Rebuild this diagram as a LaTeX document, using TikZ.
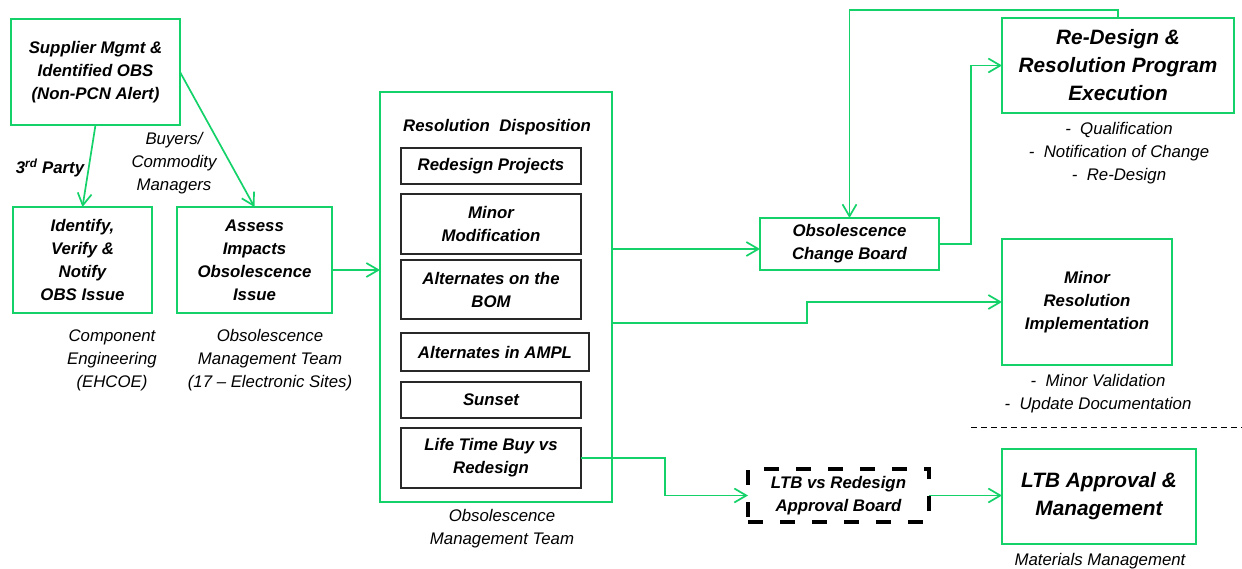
\documentclass[tikz,border=0pt]{standalone}
\usepackage{fontspec}
\setmainfont{Liberation Sans}
\usetikzlibrary{arrows.meta,calc}
\definecolor{ogreen}{RGB}{20,210,105}
\definecolor{ogrey}{RGB}{40,40,40}
\tikzset{
  gbox/.style={draw=ogreen, line width=2pt, align=center, inner sep=0pt, outer sep=0pt,
    font=\bfseries\itshape\fontsize{16.8}{23}\selectfont},
  bigtxt/.style={font=\bfseries\itshape\fontsize{20.8}{28}\selectfont},
  ibox/.style={draw=ogrey, line width=1.6pt, align=center, inner sep=0pt, outer sep=0pt,
    font=\bfseries\itshape\fontsize{16.8}{23}\selectfont},
  dbox/.style={draw=black, line width=3.5pt, dash pattern=on 15pt off 17pt, align=center,
    inner sep=0pt, outer sep=0pt, font=\bfseries\itshape\fontsize{16.8}{23}\selectfont},
  lbl/.style={align=center, inner sep=0pt, font=\itshape\fontsize{16.8}{23}\selectfont},
  blbl/.style={align=center, inner sep=0pt, font=\bfseries\itshape\fontsize{16.8}{23}\selectfont},
  arr/.style={draw=ogreen, line width=1.7pt, -{Straight Barb[length=12pt,width=14pt]}},
}
\begin{document}
\begin{tikzpicture}[x=1pt,y=-1pt]
\useasboundingbox (0,0) rectangle (1242,569);

% left boxes
\node[gbox, minimum width=169pt, minimum height=106pt] (sup) at (95.5,72)
  {Supplier Mgmt \&\\Identified OBS\\(Non-PCN Alert)};
\node[gbox, minimum width=139pt, minimum height=106pt] (ident) at (82.5,260)
  {Identify,\\Verify \&\\Notify\\OBS Issue};
\node[gbox, minimum width=155pt, minimum height=106pt] (assess) at (254.5,260)
  {Assess\\Impacts\\Obsolescence\\Issue};

\node[blbl] (third) at (50,168) {3\textsuperscript{rd} Party};
\node[lbl] (buyers) at (174,163) {Buyers/\\Commodity\\Managers};
\node[lbl] (comp) at (112,360) {Component\\Engineering\\(EHCOE)};
\node[lbl] (omt1) at (270,360) {Obsolescence\\Management Team\\(17 -- Electronic Sites)};

% big box
\node[draw=ogreen, line width=2pt, minimum width=232pt, minimum height=410pt, inner sep=0pt, outer sep=0pt] (big) at (496,297) {};
\node[blbl] (resdisp) at (497,127) {Resolution\ \ Disposition};
\node[ibox, minimum width=180pt, minimum height=36pt] (rp) at (491,166) {Redesign Projects};
\node[ibox, minimum width=180pt, minimum height=60pt] (mm) at (491,224) {Minor\\Modification};
\node[ibox, minimum width=180pt, minimum height=59pt] (bom) at (491,289.5) {Alternates on the\\BOM};
\node[ibox, minimum width=188pt, minimum height=38pt] (ampl) at (495,352) {Alternates in AMPL};
\node[ibox, minimum width=180pt, minimum height=36pt] (sunset) at (491,400) {Sunset};
\node[ibox, minimum width=180pt, minimum height=60pt] (ltb) at (491,458) {Life Time Buy vs\\Redesign};
\node[lbl] (omt2) at (502,528.5) {Obsolescence\\Management Team};

% right side
\node[gbox, bigtxt, minimum width=232pt, minimum height=95pt] (redesign) at (1118,65.5)
  {Re-Design \&\\Resolution Program\\Execution};
\node[lbl] (rdlist) at (1119,153) {-\ \ Qualification\\-\ \ Notification of Change\\-\ \ Re-Design};
\node[gbox, minimum width=179pt, minimum height=52pt] (ocb) at (849.5,244) {Obsolescence\\Change Board};
\node[gbox, minimum width=170pt, minimum height=126pt] (minor) at (1087,302)
  {Minor\\Resolution\\Implementation};
\node[lbl] (minlist) at (1098,394) {-\ \ Minor Validation\\-\ \ Update Documentation};
\coordinate (dl1) at (971,427);
\coordinate (dl2) at (1242,427);
\draw[black, line width=1pt, dash pattern=on 6pt off 4pt] (dl1) -- (dl2);
\node[dbox, minimum width=181pt, minimum height=53pt] (ltbvs) at (838.5,495.5) {LTB vs Redesign\\Approval Board};
\node[gbox, bigtxt, minimum width=194pt, minimum height=95pt] (ltbapp) at (1099,496.5)
  {LTB Approval \&\\Management};
\node[lbl] (matmgmt) at (1100,561) {Materials Management};

% connectors
\coordinate (a1) at ($(assess.east)+(0,10)$);
\coordinate (o1) at ($(ocb.west)+(0,5)$);
\draw[arr] (sup.south) -- (ident.north);
\draw[arr] (sup.east) -- (assess.north);
\draw[arr] (a1) -- (a1 -| big.west);
\draw[arr] (big.east |- o1) -- (o1);
\draw[arr] (big.east |- 0,323) -- (807,323) |- (minor.west);
\draw[arr] (ocb.east) -- ++(32,0) |- (redesign.west);
\draw[arr] (redesign.north) -- ++(0,-8) -| (ocb.north);
\draw[arr] (ltb.east) -- (665,458) |- (ltbvs.west);
\draw[arr] (ltbvs.east) -- (ltbvs.east -| ltbapp.west);
\end{tikzpicture}
\end{document}
